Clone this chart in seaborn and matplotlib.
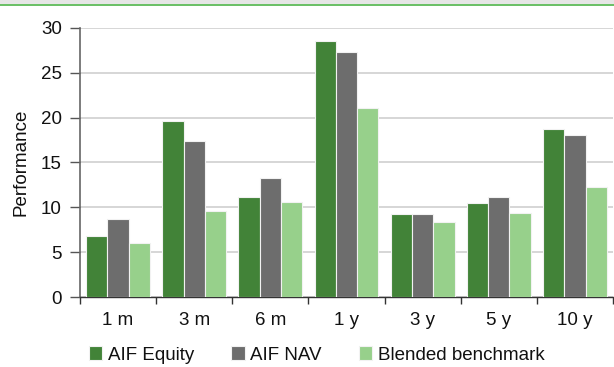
import matplotlib
matplotlib.use("Agg")
import matplotlib.pyplot as plt
from matplotlib.patches import Rectangle
from matplotlib.ticker import FixedLocator
import seaborn as sns
import pandas as pd

periods = ["1 m", "3 m", "6 m", "1 y", "3 y", "5 y", "10 y"]
aif_equity = [6.8, 19.6, 11.2, 28.5, 9.3, 10.5, 18.7]
aif_nav = [8.7, 17.4, 13.3, 27.3, 9.3, 11.2, 18.1]
blended = [6.0, 9.6, 10.6, 21.1, 8.4, 9.4, 12.3]
series_names = ["AIF Equity", "AIF NAV", "Blended benchmark"]
colors = ["#428338", "#6d6d6d", "#97d08b"]
y_ticks = [0, 5, 10, 15, 20, 25, 30]

rows = []
for name, vals in zip(series_names, [aif_equity, aif_nav, blended]):
    for p, v in zip(periods, vals):
        rows.append({"Period": p, "Series": name, "Performance": v})
df = pd.DataFrame(rows)

sns.set_theme(style="white")
plt.rcParams["font.family"] = ["Liberation Sans", "DejaVu Sans"]

W, H = 614, 367
fig = plt.figure(figsize=(W / 100, H / 100), dpi=100)
ax = fig.add_axes([80 / W, (H - 297) / H, (613 - 80) / W, (297 - 28) / H])

sns.barplot(data=df, x="Period", y="Performance", hue="Series",
            order=periods, hue_order=series_names, palette=colors,
            saturation=1, width=0.84, edgecolor="#f2f2f2", linewidth=0.8,
            ax=ax, zorder=3)

ax.set_ylim(0, 30)
ax.set_xlim(-0.5, len(periods) - 0.5)
ax.set_yticks(y_ticks)
ax.set_yticklabels([str(t) for t in y_ticks], fontsize=13.5, color="#111111")
ax.tick_params(axis="y", direction="out", length=7, width=1, color="#555555",
               left=True, pad=6)
ax.tick_params(axis="x", which="major", length=0, labelsize=13.5, pad=11,
               labelcolor="#111111")
ax.xaxis.set_minor_locator(FixedLocator([i - 0.5 for i in range(len(periods) + 1)]))
ax.tick_params(axis="x", which="minor", direction="out", length=5, width=1,
               color="#333333", bottom=True)

ax.yaxis.grid(True, color="#d0d0d0", linewidth=1.2, zorder=0)
ax.set_axisbelow(True)
for s in ["top", "right"]:
    ax.spines[s].set_visible(False)
ax.spines["left"].set_color("#666666")
ax.spines["left"].set_linewidth(1.2)
ax.spines["bottom"].set_color("#333333")
ax.spines["bottom"].set_linewidth(1.0)

ax.set_xlabel("")
ax.set_ylabel("Performance", fontsize=13.5, color="#111111")
ax.yaxis.set_label_coords(-0.094, 0.5)

ax.legend_.remove()
handles, labels = ax.get_legend_handles_labels()
fig.legend(handles[:3], labels[:3], loc="center", bbox_to_anchor=(0.516, 1 - 355 / H),
           ncol=3, frameon=False, fontsize=13.5, handlelength=0.7, handleheight=0.7,
           handletextpad=0.3, columnspacing=2.0, labelcolor="#111111")

# header band above the chart
fig.patches.append(Rectangle((0, 1 - 4 / H), 1, 4 / H, transform=fig.transFigure,
                             facecolor="#e6e6e6", edgecolor="none", zorder=0))
fig.patches.append(Rectangle((0, 1 - 6 / H), 1, 2.2 / H, transform=fig.transFigure,
                             facecolor="#6cc068", edgecolor="none", zorder=1))

fig.savefig("out.png", dpi=100)
